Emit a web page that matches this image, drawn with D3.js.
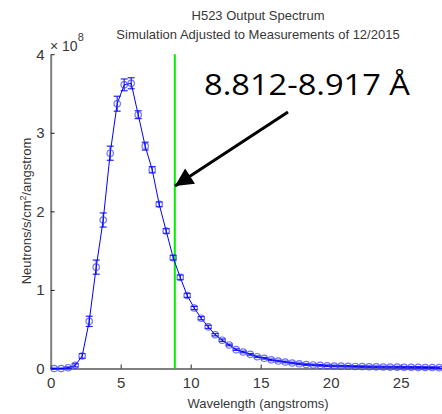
<!DOCTYPE html>
<html><head><meta charset="utf-8">
<script src="https://cdn.jsdelivr.net/npm/d3@7"></script>
<style>body{margin:0;background:#fff}svg{display:block}</style>
</head><body>
<svg id="c" width="442" height="414"></svg>
<script>
const wavelengths = [0.25,0.75,1.25,1.75,2.25,2.75,3.25,3.75,4.25,4.75,5.25,5.75,6.25,6.75,7.25,7.75,8.25,8.75,9.25,9.75,10.25,10.75,11.25,11.75,12.25,12.75,13.25,13.75,14.25,14.75,15.25,15.75,16.25,16.75,17.25,17.75,18.25,18.75,19.25,19.75,20.25,20.75,21.25,21.75,22.25,22.75,23.25,23.75,24.25,24.75,25.25,25.75,26.25,26.75,27.25,27.75];
const flux = [0.00,0.00,0.01,0.04,0.16,0.60,1.29,1.89,2.74,3.37,3.61,3.63,3.23,2.83,2.53,2.09,1.75,1.41,1.16,0.93,0.77,0.64,0.53,0.43,0.36,0.30,0.24,0.21,0.18,0.15,0.13,0.11,0.095,0.083,0.07,0.06,0.05,0.045,0.04,0.035,0.032,0.03,0.028,0.026,0.024,0.022,0.021,0.019,0.018,0.017,0.016,0.015,0.014,0.013,0.012,0.011];
const fluxErr = [0.005,0.005,0.01,0.02,0.03,0.065,0.09,0.09,0.09,0.095,0.075,0.07,0.05,0.05,0.04,0.03,0.03,0.03,0.03,0.025,0.02,0.02,0.02,0.015,0.015,0.01,0.01,0.01,0.01,0.01,0.01,0.01,0.01,0.01,0.01,0.01,0.01,0.01,0.01,0.01,0.01,0.01,0.01,0.01,0.01,0.01,0.01,0.01,0.01,0.01,0.01,0.01,0.01,0.01,0.01,0.01];
const xTicks = [0,5,10,15,20,25];
const yTicks = [0,1,2,3,4];
const markerLine = 8.8645;
const titleLines = ["H523 Output Spectrum","Simulation Adjusted to Measurements of 12/2015"];
const annotation = "8.812-8.917 Å";

const svg = d3.select("#c");
const font = "Liberation Sans, Arial, sans-serif";
const x = d3.scaleLinear().domain([0,30]).range([50.7,470.7]);
const y = d3.scaleLinear().domain([0,4]).range([368.5,54.2]);
const axisCol = "#808080", textCol = "#383838";

// axes
const gx = svg.append("g").attr("transform",`translate(0,${y(0)})`)
  .call(d3.axisBottom(x).tickValues(xTicks).tickFormat(d3.format("d")).tickSizeInner(-4).tickSizeOuter(0).tickPadding(9));
const gy = svg.append("g").attr("transform",`translate(${x(0)},0)`)
  .call(d3.axisLeft(y).tickValues(yTicks).tickFormat(d3.format("d")).tickSizeInner(-4).tickSizeOuter(0).tickPadding(6));
[gx,gy].forEach(g=>{
  g.select(".domain").attr("stroke",axisCol).attr("stroke-width",2);
  g.selectAll(".tick line").attr("stroke","#222").attr("stroke-width",1);
  g.selectAll(".tick text").attr("fill",textCol).style("font-family",font).style("font-size","15px");
});

// green line
svg.append("line").attr("x1",x(markerLine)).attr("x2",x(markerLine))
  .attr("y1",y(4)).attr("y2",y(0)).attr("stroke","#00ee00").attr("stroke-width",2);

const data = wavelengths.map((w,i)=>({w,v:flux[i],e:fluxErr[i]}));
// line
svg.append("path").datum(data).attr("fill","none").attr("stroke","#0000ff").attr("stroke-width",1)
  .attr("d",d3.line().x(d=>x(d.w)).y(d=>y(d.v)));
// error bars
const eb = svg.append("g").attr("stroke","#0000ff").attr("stroke-width",1.2).attr("stroke-opacity",0.85);
data.forEach(d=>{
  const cx=x(d.w), y1=y(d.v-d.e), y2=y(d.v+d.e);
  eb.append("line").attr("x1",cx).attr("x2",cx).attr("y1",y1).attr("y2",y2);
  eb.append("line").attr("x1",cx-3.5).attr("x2",cx+3.5).attr("y1",y1).attr("y2",y1);
  eb.append("line").attr("x1",cx-3.5).attr("x2",cx+3.5).attr("y1",y2).attr("y2",y2);
});
// markers
svg.append("g").selectAll("circle").data(data).join("circle")
  .attr("cx",d=>x(d.w)).attr("cy",d=>y(d.v)).attr("r",3.2)
  .attr("fill","none").attr("stroke","#3333ff").attr("stroke-opacity",0.7).attr("stroke-width",1.2);

// title
svg.append("g").selectAll("text").data(titleLines).join("text")
  .attr("x",258).attr("y",(d,i)=>20+i*19).attr("text-anchor","middle")
  .attr("fill",textCol).style("font-family",font).style("font-size","13px").text(d=>d);

// exponent
const ex = svg.append("text").attr("x",50).attr("y",51).attr("fill",textCol)
  .style("font-family",font).style("font-size","14px");
ex.append("tspan").text("× 10");
ex.append("tspan").attr("dy",-10).style("font-size","11px").text("8");

// axis labels
svg.append("text").attr("x",258).attr("y",408).attr("text-anchor","middle").attr("fill",textCol)
  .style("font-family",font).style("font-size","13px").text("Wavelength (angstroms)");
const yl = svg.append("text").attr("transform","translate(31,211) rotate(-90)").attr("text-anchor","middle")
  .attr("fill",textCol).style("font-family",font).style("font-size","13px");
yl.append("tspan").text("Neutrons/s/cm");
yl.append("tspan").attr("dy",-5).style("font-size","9px").text("2");
yl.append("tspan").attr("dy",5).text("/angstrom");

// annotation
svg.append("defs").append("marker").attr("id","ah").attr("viewBox","0 0 10 10")
  .attr("refX",10).attr("refY",5).attr("markerWidth",6.5).attr("markerHeight",6)
  .attr("markerUnits","strokeWidth").attr("orient","auto")
  .append("path").attr("d","M0,0 L10,5 L0,10 z").attr("fill","#000");
svg.append("line").attr("x1",288).attr("y1",112).attr("x2",175).attr("y2",186)
  .attr("stroke","#000").attr("stroke-width",3).attr("marker-end","url(#ah)");
svg.append("text").attr("x",204).attr("y",95).attr("fill","#000")
  .attr("textLength",206).attr("lengthAdjust","spacingAndGlyphs")
  .style("font-family","Open Sans, Lato, sans-serif").style("font-size","30px").text(annotation);
</script>
</body></html>
